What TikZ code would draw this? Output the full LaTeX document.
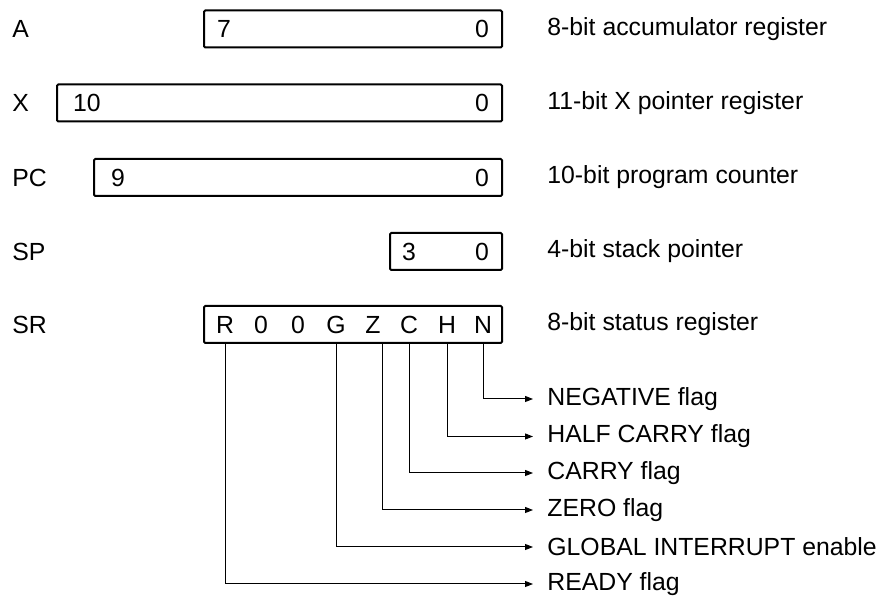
\documentclass[tikz,border=0pt]{standalone}
\usepackage{fontspec}
\setmainfont{Liberation Sans}
\usetikzlibrary{arrows.meta}

\tikzset{
	regbox/.style={draw, line width=1pt, rounded corners=0.6pt, minimum height=18.5pt, inner sep=0pt, anchor=east},
	bit/.style={inner sep=0pt, font=\fontsize{12.4}{14}\selectfont},
	txt/.style={inner sep=0pt, anchor=west, font=\fontsize{12.4}{14}\selectfont},
	flagline/.style={line width=0.5pt, -{Triangle[length=4pt, width=3pt]}, shorten >=7pt}
}

\begin{document}
\begin{tikzpicture}[x=0.5pt, y=-0.5pt]
			%%%%% START %%%%%
			\useasboundingbox (0, 0) rectangle (879, 598);
			
			% register boxes
			\node[regbox, minimum width=149pt] (A) at (503, 29) {};
			\node[regbox, minimum width=222.5pt] (X) at (503, 103) {};
			\node[regbox, minimum width=204pt] (PC) at (503, 177.5) {};
			\node[regbox, minimum width=56pt] (SP) at (503, 251.5) {};
			\node[regbox, minimum width=149pt] (SR) at (503, 324.5) {};
			
			% register names
			\node[txt] (nA) at (12, 29) {A};
			\node[txt] (nX) at (12, 103) {X};
			\node[txt] (nPC) at (12, 177.5) {PC};
			\node[txt] (nSP) at (12, 251.5) {SP};
			\node[txt] (nSR) at (12, 324.5) {SR};
			
			% bit numbers
			\node[bit] at (224, 29) {7};
			\node[bit] at (482, 29) {0};
			\node[bit] at (87, 103) {10};
			\node[bit] at (118, 177.5) {9};
			\node[bit] at (482, 103) {0};
			\node[bit] at (482, 177.5) {0};
			\node[bit] at (409, 251.5) {3};
			\node[bit] at (482, 251.5) {0};
			
			% status bits
			\node[bit] (bR) at (225, 324.5) {R};
			\node[bit] at (261, 324.5) {0};
			\node[bit] at (298, 324.5) {0};
			\node[bit] (bG) at (336, 324.5) {G};
			\node[bit] (bZ) at (373, 324.5) {Z};
			\node[bit] (bC) at (409, 324.5) {C};
			\node[bit] (bH) at (447, 324.5) {H};
			\node[bit] (bN) at (483, 324.5) {N};
			
			% descriptions
			\node[txt] at (547, 29) {8-bit accumulator register};
			\node[txt] at (547, 103) {11-bit X pointer register};
			\node[txt] at (547, 177.5) {10-bit program counter};
			\node[txt] at (547, 251.5) {4-bit stack pointer};
			\node[txt] at (547, 324.5) {8-bit status register};
			
			% flags
			\node[txt] (fN) at (547, 399) {NEGATIVE flag};
			\node[txt] (fH) at (547, 436.5) {HALF CARRY flag};
			\node[txt] (fC) at (547, 473) {CARRY flag};
			\node[txt] (fZ) at (547, 510) {ZERO flag};
			\node[txt] (fG) at (547, 547) {GLOBAL INTERRUPT enable};
			\node[txt] (fR) at (547, 584) {READY flag};
			
			\draw[flagline] (bN |- SR.south) |- (fN.west);
			\draw[flagline] (bH |- SR.south) |- (fH.west);
			\draw[flagline] (bC |- SR.south) |- (fC.west);
			\draw[flagline] ([xshift=4.5pt]bZ |- SR.south) |- (fZ.west);
			\draw[flagline] (bG |- SR.south) |- (fG.west);
			\draw[flagline] (bR |- SR.south) |- (fR.west);
			%%%%% END %%%%%
		\end{tikzpicture}
\end{document}
